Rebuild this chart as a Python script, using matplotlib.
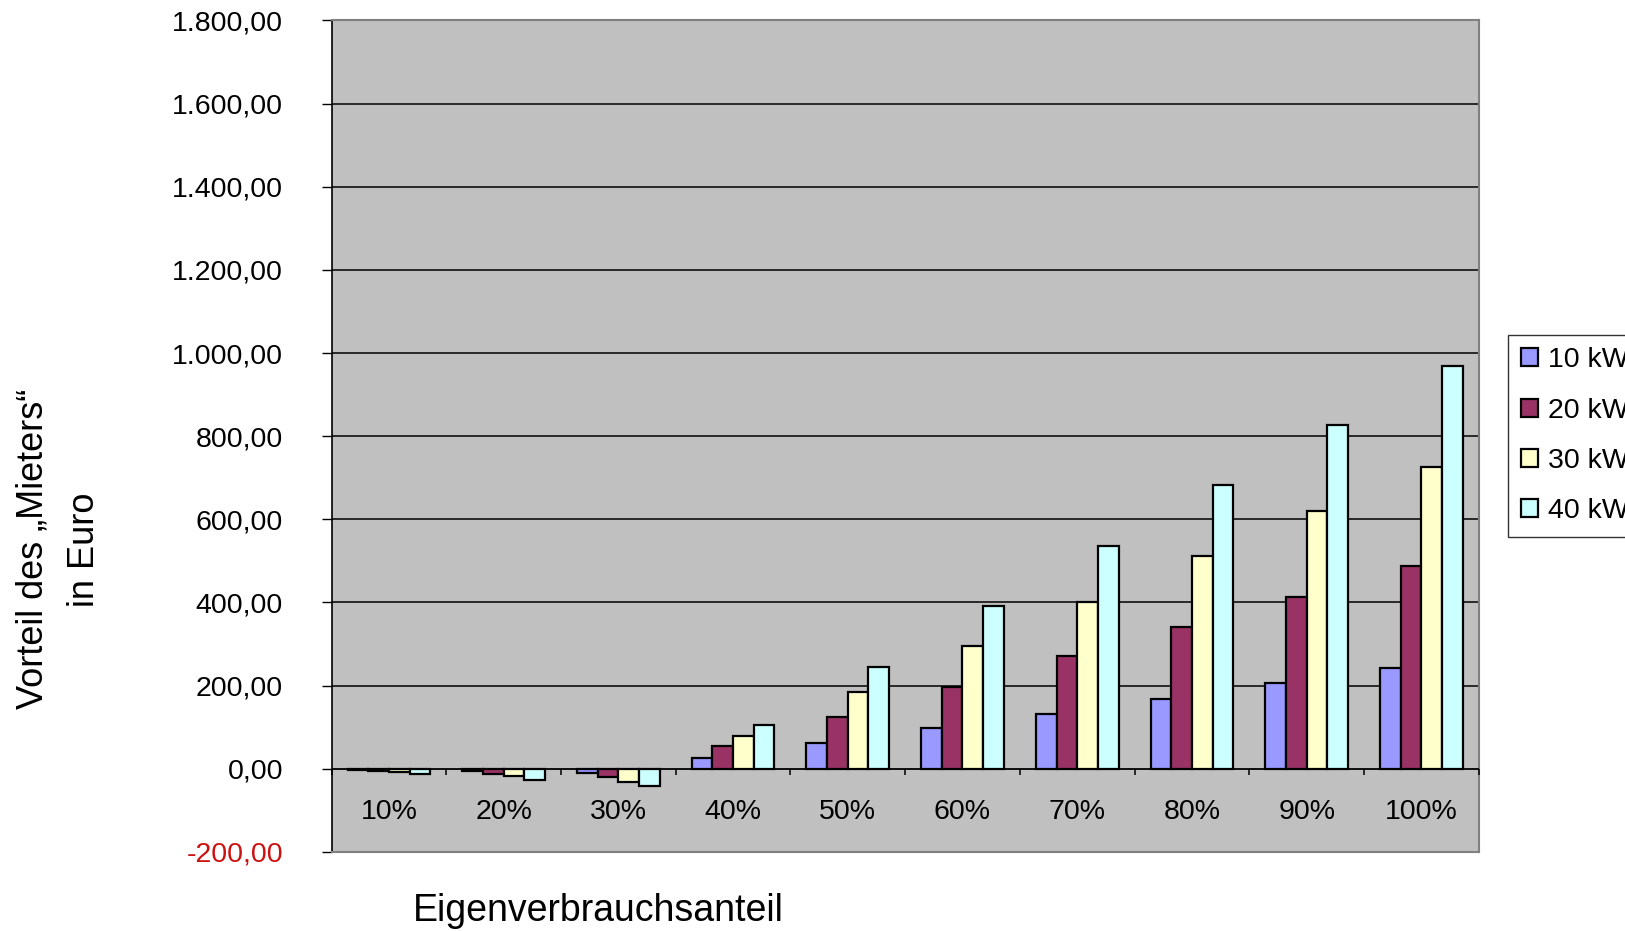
import matplotlib
matplotlib.use("Agg")
import matplotlib.pyplot as plt
import numpy as np

categories = ["10%", "20%", "30%", "40%", "50%", "60%", "70%", "80%", "90%", "100%"]
series_names = ["10 kWp", "20 kWp", "30 kWp", "40 kWp"]
s10 = [-2.5, -6, -10, 27, 62, 97, 132, 167, 207, 242]
s20 = [-6, -13, -20, 55, 125, 197, 270, 340, 412, 487]
s30 = [-9, -18, -32, 78, 185, 295, 402, 512, 620, 725]
s40 = [-13, -27, -42, 105, 245, 392, 535, 682, 827, 970]
yticks = [-200, 0, 200, 400, 600, 800, 1000, 1200, 1400, 1600, 1800]

colors = ["#9999FF", "#993366", "#FFFFCC", "#CCFFFF"]

plt.rcParams['font.family'] = ['Liberation Sans', 'DejaVu Sans']

fig = plt.figure(figsize=(16.25, 9.31), dpi=100)
ax = fig.add_axes([0.204, 0.085, 0.706, 0.893])
ax.set_facecolor("#C0C0C0")

x = np.arange(len(categories))
w = 0.18
for i, (vals, c, name) in enumerate(zip([s10, s20, s30, s40], colors, series_names)):
    ax.bar(x + (i - 1.5) * w, vals, width=w, color=c, edgecolor="black",
           linewidth=1.6, label=name, zorder=3)

ax.set_xlim(-0.5, len(categories) - 0.5)
ax.set_ylim(-200, 1800)
ax.set_yticks(yticks)

def fmt(v):
    s = f"{abs(v):,.2f}".replace(",", "X").replace(".", ",").replace("X", ".")
    return ("-" if v < 0 else "") + s

ax.set_yticklabels([fmt(v) for v in yticks], fontsize=20.5)
for lbl, v in zip(ax.get_yticklabels(), yticks):
    if v < 0:
        lbl.set_color("#CC1111")
ax.tick_params(axis="y", direction="out", length=7, width=1, pad=28)

for v in yticks[2:-1]:
    ax.axhline(v, color="black", linewidth=1.1, zorder=1)
ax.axhline(0, color="black", linewidth=1.3, zorder=4)

ax.set_xticks([])
for sp in ["top", "right", "bottom"]:
    ax.spines[sp].set_color("#808080")
    ax.spines[sp].set_linewidth(1.5)
ax.spines["left"].set_color("black")
ax.spines["left"].set_linewidth(1.2)

# category tick marks on zero line
bounds = np.arange(len(categories) + 1) - 0.5
ax.vlines(bounds, -14, 0, color="black", linewidth=1.1, zorder=4, clip_on=False)

for xi, cat in zip(x, categories):
    ax.text(xi, -105, cat, ha="center", va="center", fontsize=20.5)

fig.text(0.036, 0.41, "Vorteil des \u201eMieters\u201c\nin Euro", rotation=90,
         ha="center", va="center", fontsize=26, linespacing=1.6)
fig.text(0.368, 0.022, "Eigenverbrauchsanteil", ha="center", va="center", fontsize=27)

leg = fig.legend(loc="center left", bbox_to_anchor=(0.928, 0.532), fontsize=20.5,
                 frameon=True, fancybox=False, edgecolor="black", handlelength=0.6,
                 handleheight=0.6, handletextpad=0.35, labelspacing=0.85,
                 borderpad=0.45, borderaxespad=0)
leg.get_frame().set_linewidth(1.0)

fig.savefig("out.png", dpi=100)
